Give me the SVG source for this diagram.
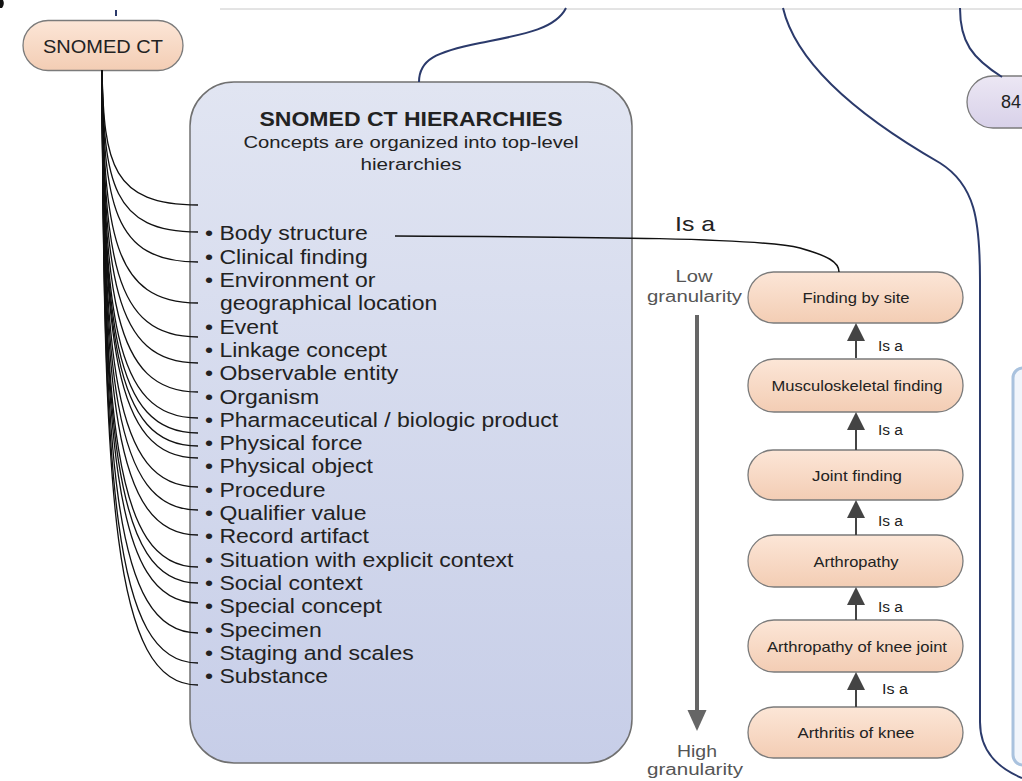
<svg xmlns="http://www.w3.org/2000/svg" width="1022" height="781" viewBox="0 0 1022 781">
<defs>
<linearGradient id="gPeach" x1="0" y1="0" x2="0" y2="1"><stop offset="0" stop-color="#fce6d7"/><stop offset="1" stop-color="#f3cdb4"/></linearGradient>
<linearGradient id="gBox" x1="0" y1="0" x2="0" y2="1"><stop offset="0" stop-color="#e1e5f2"/><stop offset="1" stop-color="#c7cee8"/></linearGradient>
<linearGradient id="gLav" x1="0" y1="0" x2="0" y2="1"><stop offset="0" stop-color="#ece7f4"/><stop offset="1" stop-color="#d8d1e9"/></linearGradient>
<style>
.t{font-family:"Liberation Sans",Arial,Helvetica,sans-serif;fill:#222}
.pill{fill:url(#gPeach);stroke:#7b7b7b;stroke-width:1.3}
.fan path{fill:none;stroke:#111;stroke-width:1.3}
.nav{fill:none;stroke:#2b3a6b;stroke-width:2}
.arr{stroke:#444;stroke-width:2}
.head{fill:#444}
.pt{font-size:15px;text-anchor:middle}
.isa{font-size:14px}
.gran{font-size:16px;fill:#555;text-anchor:middle}
</style>
</defs>
<rect width="1022" height="781" fill="#fff"/>
<path d="M0,0 L3,0 Q5,4 2,8 L0,8 Z" fill="#111"/>
<line x1="220" y1="9" x2="1022" y2="9" stroke="#c8c8c8" stroke-width="1"/>
<line x1="116" y1="10" x2="116" y2="16" stroke="#2b3a6b" stroke-width="2"/>

<g id="snomed-ct">
  <rect class="pill" x="23" y="20.5" width="160" height="50" rx="25"/>
  <text class="t" x="103" y="53" font-size="19" text-anchor="middle" textLength="120" lengthAdjust="spacingAndGlyphs">SNOMED CT</text>
</g>

<g id="hierarchies">
  <rect x="190" y="82" width="442" height="681" rx="44" fill="url(#gBox)" stroke="#707070" stroke-width="1.5"/>
  <text class="t" x="411" y="126" font-size="20" font-weight="bold" text-anchor="middle" textLength="303" lengthAdjust="spacingAndGlyphs">SNOMED CT HIERARCHIES</text>
  <text class="t" x="411" y="148" font-size="16" text-anchor="middle" textLength="335" lengthAdjust="spacingAndGlyphs" fill="#333">Concepts are organized into top-level</text>
  <text class="t" x="411" y="170" font-size="16" text-anchor="middle" textLength="101" lengthAdjust="spacingAndGlyphs" fill="#333">hierarchies</text>
  <g transform="matrix(1.18,0,0,1,205,0)" class="t" font-size="19.5">
    <text x="0" y="240.5">• Body structure</text>
    <text x="0" y="263.8">• Clinical finding</text>
    <text x="0" y="287.1">• Environment or</text>
    <text x="12.7" y="310.4">geographical location</text>
    <text x="0" y="333.7">• Event</text>
    <text x="0" y="357">• Linkage concept</text>
    <text x="0" y="380.3">• Observable entity</text>
    <text x="0" y="403.6">• Organism</text>
    <text x="0" y="426.9">• Pharmaceutical / biologic product</text>
    <text x="0" y="450.2">• Physical force</text>
    <text x="0" y="473.5">• Physical object</text>
    <text x="0" y="496.8">• Procedure</text>
    <text x="0" y="520.1">• Qualifier value</text>
    <text x="0" y="543.4">• Record artifact</text>
    <text x="0" y="566.7">• Situation with explicit context</text>
    <text x="0" y="590">• Social context</text>
    <text x="0" y="613.3">• Special concept</text>
    <text x="0" y="636.6">• Specimen</text>
    <text x="0" y="659.9">• Staging and scales</text>
    <text x="0" y="683.2">• Substance</text>
  </g>
</g>

<g id="node-84">
  <rect x="967" y="76" width="120" height="52" rx="26" fill="url(#gLav)" stroke="#7b7b7b" stroke-width="1.3"/>
  <text class="t" x="1001" y="108" font-size="18">84</text>
</g>

<g id="right-box">
  <rect x="1013" y="368" width="60" height="397" rx="10" fill="#f1f5fb" stroke="#a9c2de" stroke-width="3"/>
</g>

<g id="finding-by-site">
  <rect class="pill" x="748" y="272" width="215" height="51" rx="25.5"/>
  <text class="t pt" x="856" y="303" textLength="107" lengthAdjust="spacingAndGlyphs">Finding by site</text>
</g>
<g id="musculoskeletal-finding">
  <rect class="pill" x="748" y="359" width="215" height="53" rx="26"/>
  <text class="t pt" x="857" y="391" textLength="171" lengthAdjust="spacingAndGlyphs">Musculoskeletal finding</text>
</g>
<g id="joint-finding">
  <rect class="pill" x="748" y="450" width="215" height="50" rx="25"/>
  <text class="t pt" x="857" y="481" textLength="90" lengthAdjust="spacingAndGlyphs">Joint finding</text>
</g>
<g id="arthropathy">
  <rect class="pill" x="748" y="535" width="215" height="52" rx="26"/>
  <text class="t pt" x="856" y="567" textLength="85" lengthAdjust="spacingAndGlyphs">Arthropathy</text>
</g>
<g id="arthropathy-of-knee-joint">
  <rect class="pill" x="748" y="620" width="215" height="52" rx="26"/>
  <text class="t pt" x="857" y="652" textLength="180" lengthAdjust="spacingAndGlyphs">Arthropathy of knee joint</text>
</g>
<g id="arthritis-of-knee">
  <rect class="pill" x="748" y="707" width="215" height="51" rx="25.5"/>
  <text class="t pt" x="856" y="738" textLength="117" lengthAdjust="spacingAndGlyphs">Arthritis of knee</text>
</g>

<g id="connectors">
  <path class="nav" d="M566,8 C555,30 520,35 480,43 C435,52 419,60 419,82"/>
  <path class="nav" d="M783,8 C800,80 900,140 940,163 C975,185 980,220 980,280 L980,722 C980,752 998,768 1022,778"/>
  <path class="nav" d="M960,8 C960,42 972,58 1002,77"/>
  <g class="fan">
    <path d="M102,70 C104,164.5 112,205 198,205"/>
    <path d="M102,70 C104,183.4 112,232 198,232"/>
    <path d="M102,70 C104,204.4 112,262 198,262"/>
    <path d="M102,70 C104,233.1 112,303 198,303"/>
    <path d="M102,70 C104,256.9 112,337 198,337"/>
    <path d="M102,70 C104,275.1 112,363 198,363"/>
    <path d="M102,70 C104,295.4 112,392 198,392"/>
    <path d="M102,70 C104,313.6 112,418 198,418"/>
    <path d="M102,70 C104,324.1 112,433 198,433"/>
    <path d="M102,70 C104,333.2 112,446 198,446"/>
    <path d="M102,70 C104,341.6 112,458 198,458"/>
    <path d="M102,70 C104,361.9 112,487 198,487"/>
    <path d="M102,70 C104,378 112,510 198,510"/>
    <path d="M102,70 C104,395.5 112,535 198,535"/>
    <path d="M102,70 C104,417.9 112,567 198,567"/>
    <path d="M102,70 C104,429.1 112,583 198,583"/>
    <path d="M102,70 C104,443.1 112,603 198,603"/>
    <path d="M102,70 C104,464.1 112,633 198,633"/>
    <path d="M102,70 C104,485.1 112,663 198,663"/>
    <path d="M102,70 C104,500.5 112,685 198,685"/>
  </g>
  <path d="M395,236 C600,237 760,238 800,248 C828,256 839,262 839,272" fill="none" stroke="#111" stroke-width="1.5"/>
  <text class="t" x="675" y="231" font-size="21" textLength="40" lengthAdjust="spacingAndGlyphs">Is a</text>
  <g id="granularity">
    <line x1="697" y1="315" x2="697" y2="712" stroke="#666" stroke-width="4"/>
    <polygon points="687.5,710 706.5,710 697,731" fill="#666"/>
    <text class="t gran" x="694" y="282" textLength="37" lengthAdjust="spacingAndGlyphs">Low</text>
    <text class="t gran" x="694.5" y="302" textLength="95" lengthAdjust="spacingAndGlyphs">granularity</text>
    <text class="t gran" x="697" y="757" textLength="40" lengthAdjust="spacingAndGlyphs">High</text>
    <text class="t gran" x="695" y="775" textLength="96" lengthAdjust="spacingAndGlyphs">granularity</text>
  </g>
  <g id="isa-arrows">
    <line class="arr" x1="856" y1="340" x2="856" y2="358"/><polygon class="head" points="856,323 847,341 865,341"/>
    <line class="arr" x1="856" y1="429" x2="856" y2="450"/><polygon class="head" points="856,412 847,430 865,430"/>
    <line class="arr" x1="856" y1="517" x2="856" y2="535"/><polygon class="head" points="856,500 847,518 865,518"/>
    <line class="arr" x1="856" y1="604" x2="856" y2="620"/><polygon class="head" points="856,587 847,605 865,605"/>
    <line class="arr" x1="856" y1="689" x2="856" y2="707"/><polygon class="head" points="856,672 847,690 865,690"/>
    <text class="t isa" x="878" y="351" textLength="25" lengthAdjust="spacingAndGlyphs">Is a</text>
    <text class="t isa" x="878" y="435" textLength="25" lengthAdjust="spacingAndGlyphs">Is a</text>
    <text class="t isa" x="878" y="526" textLength="25" lengthAdjust="spacingAndGlyphs">Is a</text>
    <text class="t isa" x="878" y="612" textLength="25" lengthAdjust="spacingAndGlyphs">Is a</text>
    <text class="t isa" x="882" y="694" textLength="26" lengthAdjust="spacingAndGlyphs">Is a</text>
  </g>
</g>
</svg>
